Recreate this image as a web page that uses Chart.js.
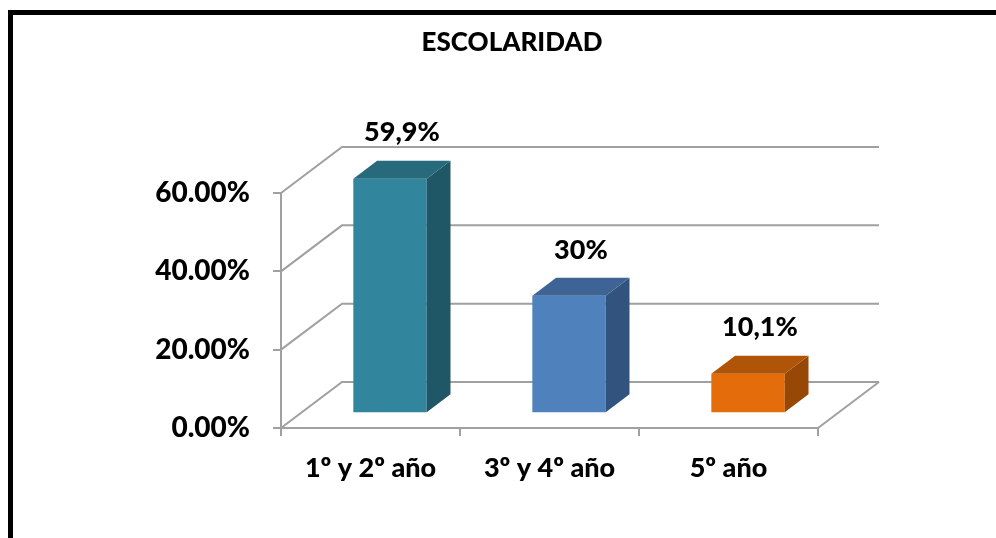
<!DOCTYPE html>
<html>
<head>
<meta charset="utf-8">
<script src="https://cdn.jsdelivr.net/npm/chart.js@4"></script>
<style>
  body { margin: 0; background: #fff; overflow: hidden; }
  #frame { position: absolute; left: 8px; top: 10px; width: 1200px; height: 800px; border: 5px solid #000; }
  #wrap { position: absolute; left: 0; top: 0; width: 996px; height: 538px; }
</style>
</head>
<body>
<div id="frame"></div>
<div id="wrap"><canvas id="myChart" width="996" height="538"></canvas></div>
<script>
// datos del gráfico
const categorias = ['1º y 2º año', '3º y 4º año', '5º año']
const valores = [59.9, 30, 10.1]
const etiquetas = ['59,9%', '30%', '10,1%']
const titulo = 'ESCOLARIDAD'

// colores de cada barra: frente, arriba, lado
const coloresFrente = ['#31859C', '#4F81BD', '#E46C0A']
const coloresArriba = ['#276A7C', '#3E6495', '#B05508']
const coloresLado = ['#205766', '#33537F', '#974806']

const gris = '#a0a0a0'
const fuente = 'Lato'
const peso = '900'
const DX = 61, DY = -46   // profundidad de la pared del fondo
const FRENTE = 0.32        // posicion de la cara frontal de las barras
const FONDO = 0.39         // profundidad de la barra

const plugin3d = {
    id: 'plugin3d',
    beforeDatasetsDraw(chart) {
        const {ctx, chartArea: a, scales: {y}} = chart
        ctx.save()
        ctx.strokeStyle = gris
        ctx.lineWidth = 2
        // lineas de la pared del fondo
        y.ticks.forEach(t => {
            const py = y.getPixelForValue(t.value)
            ctx.beginPath()
            ctx.moveTo(a.left, py)
            ctx.lineTo(a.left + DX, py + DY)
            ctx.lineTo(a.right + DX, py + DY)
            ctx.stroke()
        })
        // borde derecho del piso
        ctx.beginPath()
        ctx.moveTo(a.right, a.bottom)
        ctx.lineTo(a.right + DX, a.bottom + DY)
        ctx.stroke()
        ctx.restore()

        // movemos las caras frontales hacia dentro
        ctx.save()
        ctx.translate(DX * FRENTE, DY * FRENTE)
    },
    afterDatasetsDraw(chart) {
        const ctx = chart.ctx
        ctx.restore()
        const fx = DX * FRENTE, fy = DY * FRENTE
        const bx = DX * FONDO, by = DY * FONDO
        const meta = chart.getDatasetMeta(0)
        meta.data.forEach((bar, i) => {
            const p = bar.getProps(['x', 'y', 'base', 'width'])
            const left = p.x - p.width / 2 + fx
            const right = p.x + p.width / 2 + fx
            const top = p.y + fy
            const bottom = p.base + fy

            // lado
            ctx.fillStyle = coloresLado[i]
            ctx.beginPath()
            ctx.moveTo(right, top)
            ctx.lineTo(right + bx, top + by)
            ctx.lineTo(right + bx, bottom + by)
            ctx.lineTo(right, bottom)
            ctx.closePath()
            ctx.fill()

            // arriba
            ctx.fillStyle = coloresArriba[i]
            ctx.beginPath()
            ctx.moveTo(left, top)
            ctx.lineTo(left + bx, top + by)
            ctx.lineTo(right + bx, top + by)
            ctx.lineTo(right, top)
            ctx.closePath()
            ctx.fill()

            // etiqueta del valor
            ctx.fillStyle = '#000'
            ctx.font = peso + ' 27px ' + fuente
            ctx.textAlign = 'center'
            ctx.textBaseline = 'middle'
            ctx.fillText(etiquetas[i], p.x + fx + bx / 2, top + by / 2 - 37)
        })
    },
    afterDraw(chart) {
        const ctx = chart.ctx
        ctx.save()
        ctx.fillStyle = '#000'
        ctx.font = peso + ' 26px ' + fuente
        ctx.textAlign = 'center'
        ctx.textBaseline = 'middle'
        ctx.fillText(titulo, 512, 43)
        ctx.restore()
    }
}

const ctx = document.getElementById('myChart').getContext('2d')

new Chart(ctx, {
    type: 'bar',
    data: {
        labels: categorias,
        datasets: [{
            data: valores,
            backgroundColor: coloresFrente,
            borderWidth: 0,
            categoryPercentage: 1,
            barPercentage: 0.41,
            clip: false
        }]
    },
    options: {
        responsive: false,
        animation: false,
        layout: { padding: { left: 0, right: 178, top: 193, bottom: 0 } },
        plugins: {
            legend: { display: false },
            tooltip: { enabled: false },
            title: { display: false }
        },
        scales: {
            x: {
                grid: { drawOnChartArea: false, color: gris, lineWidth: 2, tickLength: 8 },
                border: { color: gris, width: 2 },
                ticks: { color: '#000', padding: 16, font: { family: fuente, size: 27, weight: peso } },
                afterFit: s => { s.height = 110 }
            },
            y: {
                min: 0,
                max: 60,
                grid: { drawOnChartArea: false, color: gris, lineWidth: 2, tickLength: 8 },
                border: { color: gris, width: 2 },
                ticks: {
                    stepSize: 20,
                    color: '#000',
                    padding: 23,
                    font: { family: fuente, size: 28, weight: peso },
                    callback: v => v.toFixed(2) + '%'
                },
                afterFit: s => { s.width = 281 }
            }
        }
    },
    plugins: [plugin3d]
})
</script>
</body>
</html>
